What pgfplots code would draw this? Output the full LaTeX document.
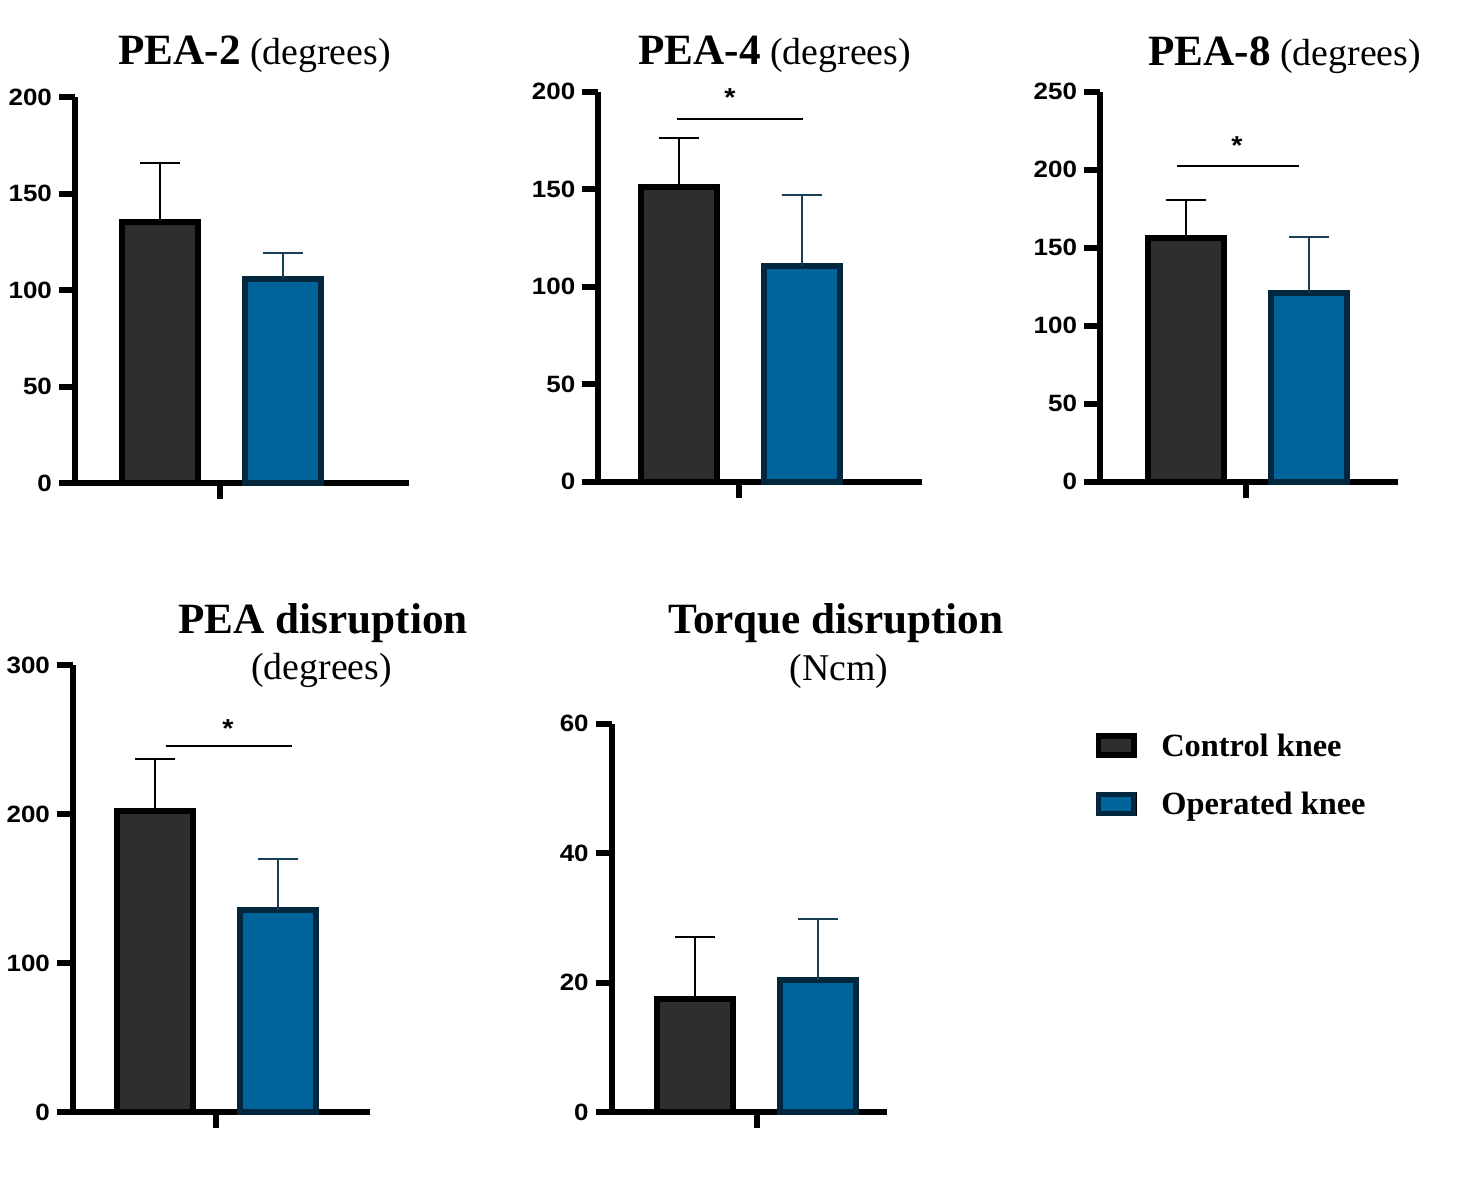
\documentclass[border=0pt]{standalone}
\usepackage{fontspec}
\usepackage{pgfplots}
\pgfplotsset{compat=1.18}
\setmainfont{Liberation Serif}
\newfontfamily\tickfamily{Liberation Sans}[FakeStretch=1.1]
\newcommand\tickfont{\tickfamily\bfseries\fontsize{11.8pt}{13pt}\selectfont}
\newcommand\starfont{\tickfamily\bfseries\fontsize{13pt}{13pt}\selectfont}
\newcommand\titlebf{\rmfamily\bfseries\fontsize{21.6pt}{24pt}\selectfont}
\newcommand\titlerg{\rmfamily\mdseries\fontsize{18.9pt}{22pt}\selectfont}
\newcommand\legendfont{\rmfamily\bfseries\fontsize{16.2pt}{19pt}\selectfont}
\definecolor{ctrl}{HTML}{2E2E2E}
\definecolor{oper}{HTML}{00639A}
\definecolor{operedge}{HTML}{03283D}
\definecolor{opererr}{HTML}{163E56}
\pgfplotsset{
  panel/.style={scale only axis, anchor=south west, axis lines*=left,
    axis line style={line width=3pt, black, -},
    tick style={line width=3pt, black}, major tick length=8pt,
    tick align=outside, xticklabels={}, ticklabel style={font=\tickfont},
    /pgf/number format/assume math mode=true, clip=false, ymin=0},
  ctrlbar/.style={ybar, bar width=38pt, bar shift=0pt, fill=ctrl, draw=black,
    line width=3pt, forget plot,
    error bars/.cd, y dir=plus, y explicit,
    error bar style={line width=1pt, black},
    error mark options={rotate=90, mark size=10pt, line width=1pt, black}},
  operbar/.style={ybar, bar width=38pt, bar shift=0pt, fill=oper, draw=operedge,
    line width=3pt, forget plot,
    error bars/.cd, y dir=plus, y explicit,
    error bar style={line width=1pt, opererr},
    error mark options={rotate=90, mark size=10pt, line width=1pt, opererr}},
}
\begin{document}
\begin{tikzpicture}
\path[use as bounding box] (0,0) rectangle (737.5pt,601pt);
% Titles
\node[anchor=base west, inner sep=0pt] at (59pt,568.5pt) {\titlebf PEA-2\titlerg\ (degrees)};
\node[anchor=base west, inner sep=0pt] at (319pt,568.5pt) {\titlebf PEA-4\titlerg\ (degrees)};
\node[anchor=base west, inner sep=0pt] at (574pt,568pt) {\titlebf PEA-8\titlerg\ (degrees)};
\node[anchor=base west, inner sep=0pt] at (89pt,284pt) {\titlebf PEA disruption};
\node[anchor=base west, inner sep=0pt] at (125.5pt,261pt) {\titlerg (degrees)};
\node[anchor=base west, inner sep=0pt] at (334pt,284pt) {\titlebf Torque disruption};
\node[anchor=base west, inner sep=0pt] at (394.5pt,260.5pt) {\titlerg (Ncm)};

% Panel 1: PEA-2
\begin{axis}[panel, at={(37.5pt,359.35pt)}, width=167pt, height=193pt,
  xmin=0.317, xmax=3.015, ymax=200, ytick={0,50,100,150,200}, xtick={1.489}]
\addplot[ctrlbar] coordinates {(1,135.4) +- (0,30.6)};
\addplot[operbar] coordinates {(2,106.0) +- (0,13.2)};
\end{axis}

% Panel 2: PEA-4
\begin{axis}[panel, at={(299.15pt,360.15pt)}, width=161.7pt, height=195pt,
  xmin=0.345, xmax=2.979, ymax=200, ytick={0,50,100,150,200}, xtick={1.492}]
\addplot[ctrlbar] coordinates {(1,150.9) +- (0,25.2)};
\addplot[operbar] coordinates {(2,110.8) +- (0,36.2)};
\draw[line width=1pt] (axis cs:0.986,186) -- (axis cs:2.012,186);
\node[font=\starfont, anchor=base, inner sep=0pt] at (axis cs:1.418,192.5) {*};
\end{axis}

% Panel 3: PEA-8
\begin{axis}[panel, at={(550pt,360.15pt)}, width=149.15pt, height=195pt,
  xmin=0.304, xmax=2.727, ymax=250, ytick={0,50,100,150,200,250}, xtick={1.487}]
\addplot[ctrlbar] coordinates {(1,156.2) +- (0,24.4)};
\addplot[operbar] coordinates {(2,120.9) +- (0,35.7)};
\draw[line width=1pt] (axis cs:0.929,202.6) -- (axis cs:1.920,202.6);
\node[font=\starfont, anchor=base, inner sep=0pt] at (axis cs:1.417,209.5) {*};
\end{axis}

% Panel 4: PEA disruption
\begin{axis}[panel, at={(36.5pt,44.85pt)}, width=148.5pt, height=223.65pt,
  xmin=0.332, xmax=2.751, ymax=300, ytick={0,100,200,300}, xtick={1.496}]
\addplot[ctrlbar] coordinates {(1,201.8) +- (0,35.2)};
\addplot[operbar] coordinates {(2,135.4) +- (0,34.2)};
\draw[line width=1pt] (axis cs:1.087,245.7) -- (axis cs:2.113,245.7);
\node[font=\starfont, anchor=base, inner sep=0pt] at (axis cs:1.594,251.5) {*};
\end{axis}

% Panel 5: Torque disruption
\begin{axis}[panel, at={(305.85pt,44.85pt)}, width=137.8pt, height=194.35pt,
  xmin=0.320, xmax=2.562, ymax=60, ytick={0,20,40,60}, xtick={1.5},
  legend style={at={(1.754,0.9758)}, anchor=north west, draw=none, fill=none,
    inner sep=0pt, row sep=16.5pt, font=\legendfont,
    nodes={inner sep=0pt, anchor=base west},
    /tikz/every odd column/.append style={column sep=12.5pt}},
  legend cell align=left]
\addplot[ctrlbar] coordinates {(1,17.5) +- (0,9.5)};
\addplot[operbar] coordinates {(2,20.4) +- (0,9.4)};
\addlegendimage{legend image code/.code={
  \path (0pt,-0.6pt) rectangle (20pt,11.1pt);
  \draw[line width=2.5pt, draw=black, fill=ctrl] (1.25pt,0.65pt) rectangle (18.75pt,9.85pt);}}
\addlegendentry{Control knee}
\addlegendimage{legend image code/.code={
  \path (0pt,-0.6pt) rectangle (20pt,11.1pt);
  \draw[line width=2.5pt, draw=operedge, fill=oper] (1.25pt,0.65pt) rectangle (18.75pt,9.85pt);}}
\addlegendentry{Operated knee}
\end{axis}
\end{tikzpicture}
\end{document}
